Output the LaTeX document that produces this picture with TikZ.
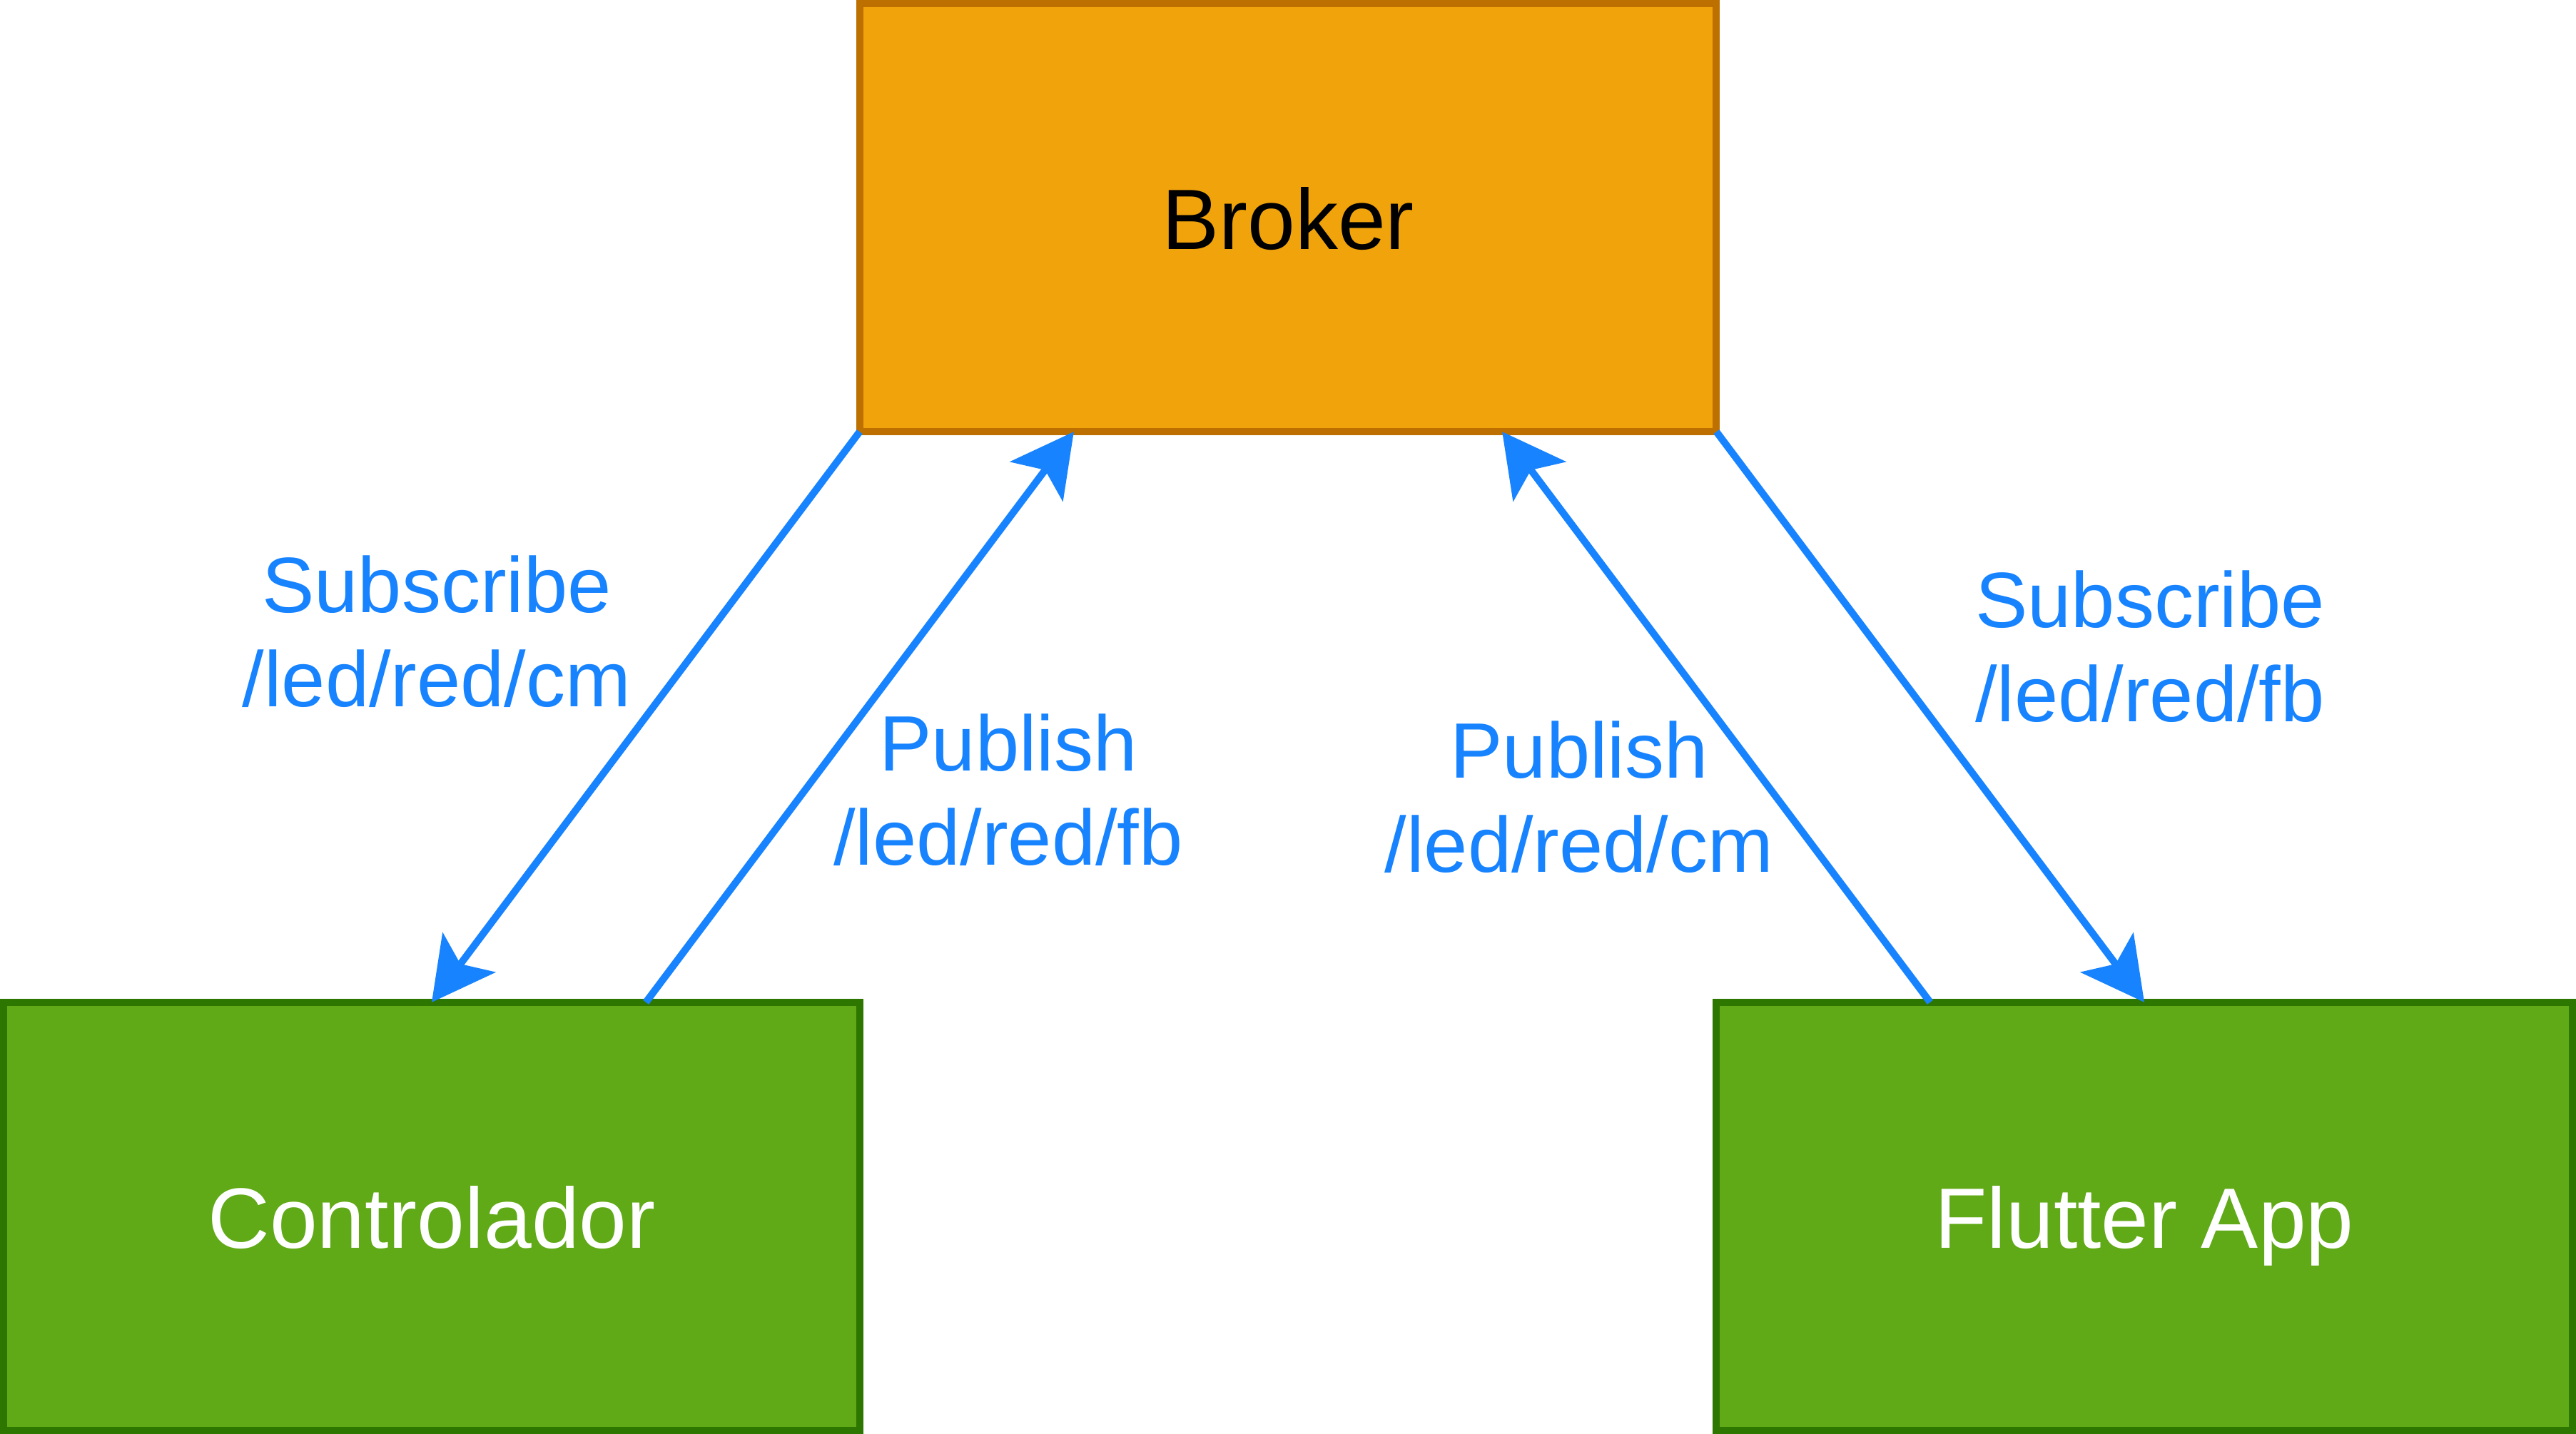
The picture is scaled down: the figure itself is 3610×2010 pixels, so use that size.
\documentclass[tikz,border=0pt]{standalone}
\usepackage{fontspec}
\setmainfont{Liberation Sans}
\usetikzlibrary{arrows.meta,calc}
\definecolor{orfill}{HTML}{F0A30A}
\definecolor{ordraw}{HTML}{BD7000}
\definecolor{grfill}{HTML}{60A917}
\definecolor{grdraw}{HTML}{2D7600}
\definecolor{lblue}{HTML}{1783FF}
\begin{document}
\begin{tikzpicture}[x=0.01cm,y=-0.01cm,
  box/.style={rectangle, minimum width=12cm, minimum height=6cm, line width=0.1cm, outer sep=0pt, inner sep=0pt,
    text height=1.12cm, text depth=0.24cm,
    font=\fontsize{34.14pt}{41pt}\selectfont},
  brokerbox/.style={box, fill=orfill, draw=ordraw, text=black},
  clientbox/.style={box, fill=grfill, draw=grdraw, text=white},
  conn/.style={draw=lblue, line width=0.1cm, -{Stealth[length=0.87cm, width=0.92cm, inset=0.2cm]}},
  lbl/.style={text=lblue, align=center, inner sep=0pt, font=\fontsize{31.3pt}{37.6pt}\selectfont}]
\useasboundingbox (0,0) rectangle (3610,2010);
\node[brokerbox] (broker) at (1805,305) {Broker};
\node[clientbox] (ctrl) at (605,1705) {Controlador};
\node[clientbox] (app) at (3005,1705) {Flutter App};
\coordinate (bq1) at ($(broker.south west)!0.25!(broker.south east)$);
\coordinate (bq3) at ($(broker.south west)!0.75!(broker.south east)$);
\coordinate (cq3) at ($(ctrl.north west)!0.75!(ctrl.north east)$);
\coordinate (aq1) at ($(app.north west)!0.25!(app.north east)$);
\draw[conn] (broker.south west) -- (ctrl.north);
\draw[conn] (cq3) -- (bq1);
\draw[conn] (aq1) -- (bq3);
\draw[conn] (broker.south east) -- (app.north);
\node[lbl] (l1) at (612,885) {Subscribe\\/led/red/cm};
\node[lbl] (l2) at (1413,1107) {Publish\\/led/red/fb};
\node[lbl] (l3) at (2213,1117) {Publish\\/led/red/cm};
\node[lbl] (l4) at (3013,906) {Subscribe\\/led/red/fb};
\end{tikzpicture}
\end{document}
